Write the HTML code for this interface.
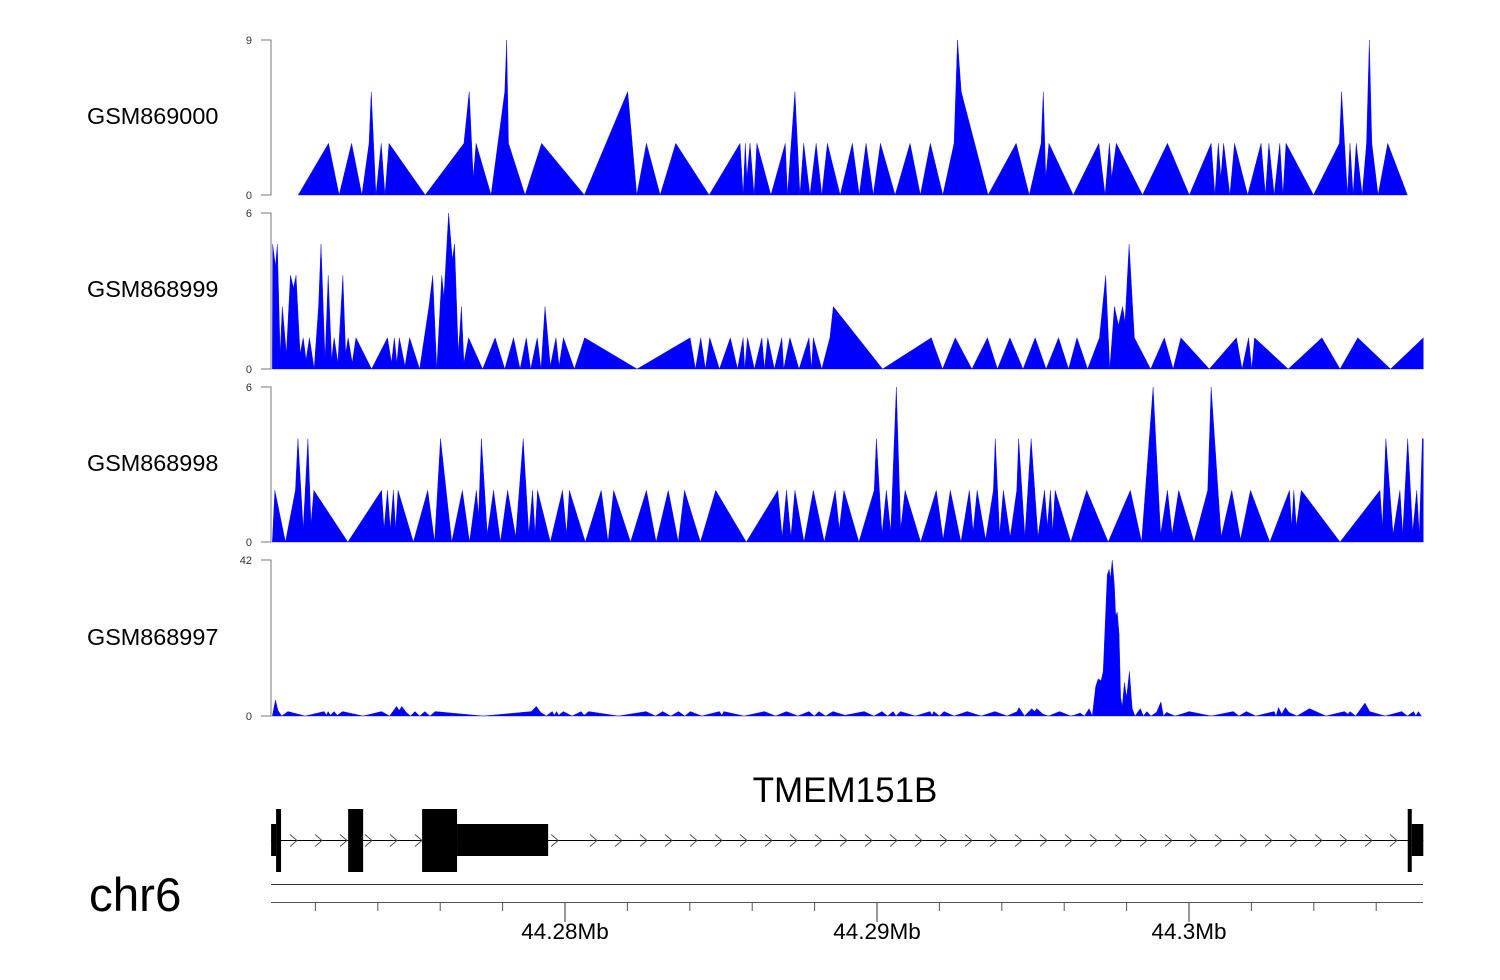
<!DOCTYPE html>
<html><head><meta charset="utf-8">
<style>
html,body{margin:0;padding:0;background:#fff;}
svg{display:block;font-family:"Liberation Sans",sans-serif;}
</style></head>
<body>
<svg id="chart" width="1500" height="980" viewBox="0 0 1500 980" xmlns="http://www.w3.org/2000/svg"></svg>
<script>
// Positions: kb offset from 44.27 Mb; values: coverage
const gsm869000 = [[1.45,0],[2.42,3],[2.76,0],[3.16,3],[3.49,0],[3.72,3],[3.79,6],[3.94,0],[4.11,3],[4.23,0],
[4.36,3],[5.52,0],[6.76,3],[6.93,6],[7.06,1],[7.15,3],[7.63,0],[8.07,6],[8.13,9],[8.19,3],
[8.72,0],[9.25,3],[10.62,0],[12.01,6],[12.30,0],[12.61,3],[13.05,0],[13.55,3],[14.62,0],[15.61,3],
[15.71,0],[15.78,3],[15.83,1],[15.93,3],[16.06,0],[16.15,3],[16.60,0],[17.06,3],[17.13,0],[17.37,6],
[17.53,0],[17.65,3],[17.85,0],[18.05,3],[18.23,0],[18.41,3],[18.82,0],[19.21,3],[19.43,0],[19.65,3],
[19.88,0],[20.11,3],[20.58,0],[21.06,3],[21.39,0],[21.71,3],[22.11,0],[22.47,3],[22.58,9],[22.70,6],
[23.56,0],[24.46,3],[24.88,0],[25.26,3],[25.33,6],[25.41,1],[25.51,3],[26.29,0],[27.11,3],[27.31,0],
[27.45,3],[27.52,1],[27.67,3],[28.51,0],[29.31,3],[30.01,0],[30.71,3],[30.83,0],[30.94,3],[31.02,1],
[31.11,3],[31.31,0],[31.46,3],[31.88,0],[32.31,3],[32.45,0],[32.56,3],[32.73,0],[32.91,3],[33.01,0],
[33.11,3],[33.99,0],[34.82,3],[34.89,6],[35.08,0],[35.16,3],[35.26,0],[35.36,3],[35.55,0],[35.69,3],
[35.78,9],[35.86,3],[36.06,0],[36.37,3],[37.00,0]];

const gsm868999 = [[0.62,0],[0.63,4.8],[0.72,3.96],[0.78,4.8],[0.87,0.6],[0.94,2.4],[1.07,0.6],[1.20,3.6],[1.30,3.12],[1.38,3.6],
[1.51,0.6],[1.61,1.2],[1.70,0.36],[1.81,1.2],[1.96,0],[2.10,2.4],[2.18,4.8],[2.31,0.36],[2.41,3.6],[2.52,0.36],
[2.60,1.2],[2.72,0.24],[2.88,3.6],[2.97,0.6],[3.05,1.2],[3.18,0.24],[3.30,1.2],[3.80,0],[4.31,1.2],[4.44,0.24],
[4.53,1.2],[4.61,0.24],[4.69,1.2],[4.87,0.12],[5.02,1.2],[5.34,0],[5.64,2.4],[5.76,3.6],[5.89,0],[6.05,3.6],
[6.12,2.76],[6.27,6],[6.39,4.2],[6.46,4.8],[6.58,0.6],[6.68,2.4],[6.76,0.24],[6.91,1.2],[7.36,0],[7.76,1.2],
[8.07,0],[8.35,1.2],[8.56,0],[8.76,1.2],[8.90,0],[9.11,1.2],[9.23,0],[9.36,2.4],[9.53,0.12],[9.71,1.2],
[9.81,0.12],[9.95,1.2],[10.30,0],[10.63,1.2],[12.31,0],[14.01,1.2],[14.18,0],[14.35,1.2],[14.50,0],[14.64,1.2],
[14.95,0],[15.30,1.2],[15.53,0],[15.71,1.2],[15.76,0],[15.85,1.2],[16.07,0],[16.31,1.2],[16.39,0],[16.50,1.2],
[16.71,0],[16.95,1.2],[17.01,0],[17.21,1.2],[17.50,0],[17.82,1.2],[17.90,0],[17.96,1.2],[18.23,0],[18.49,1.2],
[18.60,2.4],[20.18,0],[21.74,1.2],[22.10,0],[22.51,1.2],[23.04,0],[23.54,1.2],[23.86,0],[24.26,1.2],[24.68,0],
[25.07,1.2],[25.42,0],[25.82,1.2],[26.14,0],[26.41,1.2],[26.75,0],[27.13,1.2],[27.33,3.6],[27.46,0],[27.61,2.4],
[27.74,1.68],[27.87,2.4],[27.95,1.8],[28.08,4.8],[28.25,1.2],[28.77,0],[29.21,1.2],[29.49,0],[29.74,1.2],[30.65,0],
[31.52,1.2],[31.70,0],[31.91,1.2],[32.01,0],[32.10,1.2],[33.18,0],[34.26,1.2],[34.84,0],[35.41,1.2],[36.46,0],
[37.51,1.2]];

const gsm868998 = [[0.62,0],[0.70,2],[1.04,0],[1.36,2],[1.44,4],[1.61,0.5],[1.76,4],[1.86,0.7],[1.95,2],[3.04,0],
[4.12,2],[4.20,0.5],[4.31,2],[4.40,0.5],[4.50,2],[4.57,0.5],[4.65,2],[5.14,0],[5.60,2],[5.82,0],
[6.01,4],[6.37,0],[6.71,2],[6.94,0],[7.16,2],[7.23,1],[7.32,4],[7.51,0.3],[7.71,2],[7.93,0],
[8.16,2],[8.42,0.2],[8.66,4],[8.84,0.3],[8.96,2],[9.04,0.3],[9.12,2],[9.53,0],[9.92,2],[10.05,0.3],
[10.14,2],[10.65,0],[11.16,2],[11.38,0],[11.56,2],[12.10,0],[12.61,2],[12.92,0],[13.31,2],[13.63,0],
[13.83,2],[14.34,0],[14.83,2],[15.81,0],[16.82,2],[16.96,0.2],[17.10,2],[17.24,0.2],[17.37,2],[17.66,0],
[17.96,2],[18.31,0],[18.66,2],[18.79,0.5],[18.94,2],[19.42,0],[19.91,2],[19.98,4],[20.16,0.3],[20.30,2],
[20.44,0.4],[20.62,6],[20.76,0.5],[20.90,2],[21.40,0],[21.90,2],[22.12,0.1],[22.35,2],[22.69,0],[22.96,2],
[23.08,0.4],[23.21,2],[23.48,0.1],[23.73,2],[23.79,4],[23.93,0.3],[24.05,2],[24.27,0.2],[24.48,2],[24.54,4],
[24.74,0.2],[24.94,4],[25.16,0.2],[25.37,2],[25.46,0.6],[25.56,2],[25.63,0.4],[25.71,2],[26.21,0],[26.72,2],
[27.41,0],[28.12,2],[28.48,0],[28.85,6],[29.09,0.3],[29.31,2],[29.46,0.3],[29.67,2],[30.16,0],[30.60,2],
[30.71,6],[31.03,0.2],[31.37,2],[31.65,0.1],[31.97,2],[32.59,0],[33.22,2],[33.29,0.6],[33.36,2],[33.44,0.6],
[33.60,2],[34.84,0],[36.12,2],[36.20,0.6],[36.31,4],[36.54,0.3],[36.76,2],[36.85,0.3],[37.01,4],[37.17,0.4],
[37.30,2],[37.38,0.3],[37.48,4],[37.51,4]];

const gsm868997 = [[0.62,0],[0.72,4.3],[0.80,1.5],[0.92,0],[1.12,1.2],[1.67,0],[2.28,1.2],[2.35,0.2],[2.41,1.2],[2.48,0.2],
[2.60,1.2],[2.70,0.2],[2.87,1.2],[3.53,0],[4.12,1.2],[4.38,0],[4.60,2.6],[4.69,1.5],[4.77,2.6],[4.91,1],
[5.05,0],[5.19,1.2],[5.34,0],[5.51,1.2],[5.67,0],[5.84,1.2],[7.38,0],[8.92,1.2],[9.08,2.6],[9.22,1],
[9.40,0],[9.59,1.2],[9.66,0.2],[9.73,1.2],[9.80,0.2],[9.94,1.2],[10.23,0],[10.52,1.2],[10.61,0.2],[10.76,1.2],
[11.71,0],[12.60,1.2],[12.90,0],[13.13,1.2],[13.39,0],[13.64,1.2],[13.84,0],[14.02,1.2],[14.38,0],[14.95,1.2],
[15.03,0.2],[15.09,1.2],[15.74,0],[16.39,1.2],[16.75,0],[17.10,1.2],[17.46,0],[17.82,1.2],[17.99,0],[18.14,1.2],
[18.35,0],[18.59,1.2],[18.97,0.2],[19.59,1.2],[19.90,0],[20.16,1.2],[20.34,0],[20.52,1.2],[20.61,0],[20.75,1.2],
[21.23,0],[21.70,1.2],[21.76,0.2],[21.82,1.2],[22.00,0],[22.15,1.2],[22.47,0],[22.89,1.2],[23.34,0],[23.78,1.2],
[24.17,0],[24.49,1.2],[24.55,2.3],[24.73,0],[24.96,2],[25.05,1.2],[25.12,2],[25.32,0.5],[25.50,0],[25.85,1.2],
[26.21,0],[26.35,0.3],[26.51,0.8],[26.65,0],[26.80,2],[26.90,0],[27.01,8],[27.09,10],[27.18,9.5],[27.25,12],
[27.38,38],[27.44,39.5],[27.48,37],[27.54,42],[27.61,35],[27.65,27],[27.70,28],[27.76,22],[27.81,5],[27.86,2.5],
[27.93,9],[28.00,5],[28.09,12],[28.18,2],[28.27,0],[28.44,2],[28.54,0],[28.65,1.2],[28.78,0],[28.96,1],
[29.10,3.8],[29.18,0],[29.28,1],[29.55,0],[29.87,0.8],[30.00,1.2],[30.71,0],[31.42,1.2],[31.60,0],[31.84,1.2],
[32.14,0],[32.73,1.2],[32.79,0],[32.87,2.3],[32.97,0.5],[33.09,2.3],[33.20,1],[33.46,0],[33.86,2],[34.39,0],
[34.98,1.2],[35.10,0.5],[35.16,1.2],[35.34,0],[35.64,3.5],[35.79,1.2],[36.29,0],[36.82,1.2],[37.00,0],[37.20,1.2],
[37.27,0],[37.35,1.2],[37.45,0]];

const trackNames = ["GSM869000","GSM868999","GSM868998","GSM868997"];
const trackMax = [9, 6, 6, 42];
const axisMajorTicks = [10, 20, 30];
const axisMajorLabels = ["44.28Mb", "44.29Mb", "44.3Mb"];
const axisMinorTicks = [2,4,6,8,12,14,16,18,22,24,26,28,32,34,36];
const exonStarts = [0.58, 0.74, 3.05, 5.42, 6.54, 37.01, 37.14];
const exonEnds   = [0.74, 0.90, 3.53, 6.54, 9.46, 37.14, 37.51];
const exonTall   = [0, 1, 1, 1, 0, 1, 0];

const svg = document.getElementById('chart');
const NS = 'http://www.w3.org/2000/svg';
const X0 = 253, PXKB = 31.2, XL = 271, XR = 1423;
function xs(kb){ return X0 + kb * PXKB; }
function mk(tag, attrs, parent){
  const e = document.createElementNS(NS, tag);
  for (const k in attrs) e.setAttribute(k, attrs[k]);
  (parent || svg).appendChild(e);
  return e;
}
const tracks = [gsm869000, gsm868999, gsm868998, gsm868997];
const tops = [40, 213, 387, 560];
const bottoms = [195, 369, 542, 716];
const labelY = [116, 289, 463, 637];

tracks.forEach(function(data, i){
  const top = tops[i], bot = bottoms[i], max = trackMax[i];
  function ys(v){ return bot - v / max * (bot - top); }
  const g = mk('g', {});
  
  
  const lab = mk('text', {x: 87, y: labelY[i] + 8, 'font-size': 23.4, fill: '#000'}, g);
  lab.textContent = trackNames[i];
  
  
  const ax = mk('path', {d: 'M261 ' + top + 'H271V' + bot + 'H261', fill: 'none', stroke: '#777', 'stroke-width': 1}, g);
  
  
  const tMax = mk('text', {x: 252, y: top + 4, 'font-size': 11, 'text-anchor': 'end', fill: '#333'}, g);
  tMax.textContent = String(max);
  
  
  const tMin = mk('text', {x: 252, y: bot + 4, 'font-size': 11, 'text-anchor': 'end', fill: '#333'}, g);
  tMin.textContent = '0';
  
  
  let d = 'M' + xs(data[0][0]).toFixed(2) + ' ' + bot;
  data.forEach(function(p){ d += 'L' + xs(p[0]).toFixed(2) + ' ' + ys(p[1]).toFixed(2); });
  d += 'L' + xs(data[data.length-1][0]).toFixed(2) + ' ' + bot + 'Z';
  const area = mk('path', {d: d, fill: '#0000ff', stroke: '#0000ff', 'stroke-width': 0.4}, g);
  
  
});

const gene = mk('g', {});


const gname = mk('text', {x: 845, y: 802, 'font-size': 35, 'text-anchor': 'middle', fill: '#000'}, gene);
gname.textContent = 'TMEM151B';


const intron = mk('line', {x1: xs(exonStarts[0]), x2: xs(exonEnds[exonEnds.length-1]), y1: 840.5, y2: 840.5, stroke: '#000', 'stroke-width': 1}, gene);


let lastChev = -100;
for (let cx = 290; cx < 1405; cx += 25) {
  let x = cx, skip = false;
  for (let k = 0; k < exonStarts.length; k++) {
    if (cx + 6 > xs(exonStarts[k]) && cx < xs(exonEnds[k])) {
      if (xs(exonEnds[k]) + 12 < cx + 25) x = xs(exonEnds[k]) + 3; else skip = true;
    }
  }
  if (skip || x - lastChev < 15) continue;
  lastChev = x;
  const ch = mk('path', {d: 'M' + x + ' 834.5L' + (x + 7) + ' 840.5L' + x + ' 846.5', fill: 'none', stroke: '#444', 'stroke-width': 0.9}, gene);
  
  
}
for (let k = 0; k < exonStarts.length; k++) {
  const x1 = xs(exonStarts[k]), x2 = xs(exonEnds[k]);
  const y1 = exonTall[k] ? 809 : 824, y2 = exonTall[k] ? 872 : 856;
  const ex = mk('rect', {x: x1, y: y1, width: x2 - x1, height: y2 - y1, fill: '#000'}, gene);
  
  
}
const chr = mk('text', {x: 89, y: 911, 'font-size': 47.5, fill: '#000'});
chr.textContent = 'chr6';


const chrLine = mk('line', {x1: XL, x2: XR, y1: 884.5, y2: 884.5, stroke: '#333', 'stroke-width': 1});


const axisLine = mk('line', {x1: XL, x2: XR, y1: 902.5, y2: 902.5, stroke: '#555', 'stroke-width': 1});


axisMinorTicks.forEach(function(t){
  const tk = mk('line', {x1: xs(t), x2: xs(t), y1: 902.5, y2: 911, stroke: '#555', 'stroke-width': 1});
  
  
});
axisMajorTicks.forEach(function(t, i){
  const tk = mk('line', {x1: xs(t), x2: xs(t), y1: 902.5, y2: 922, stroke: '#333', 'stroke-width': 1});
  
  
  const tl = mk('text', {x: xs(t), y: 939, 'font-size': 22.5, 'text-anchor': 'middle', fill: '#000'});
  tl.textContent = axisMajorLabels[i];
  
  
});
</script>
</body></html>
